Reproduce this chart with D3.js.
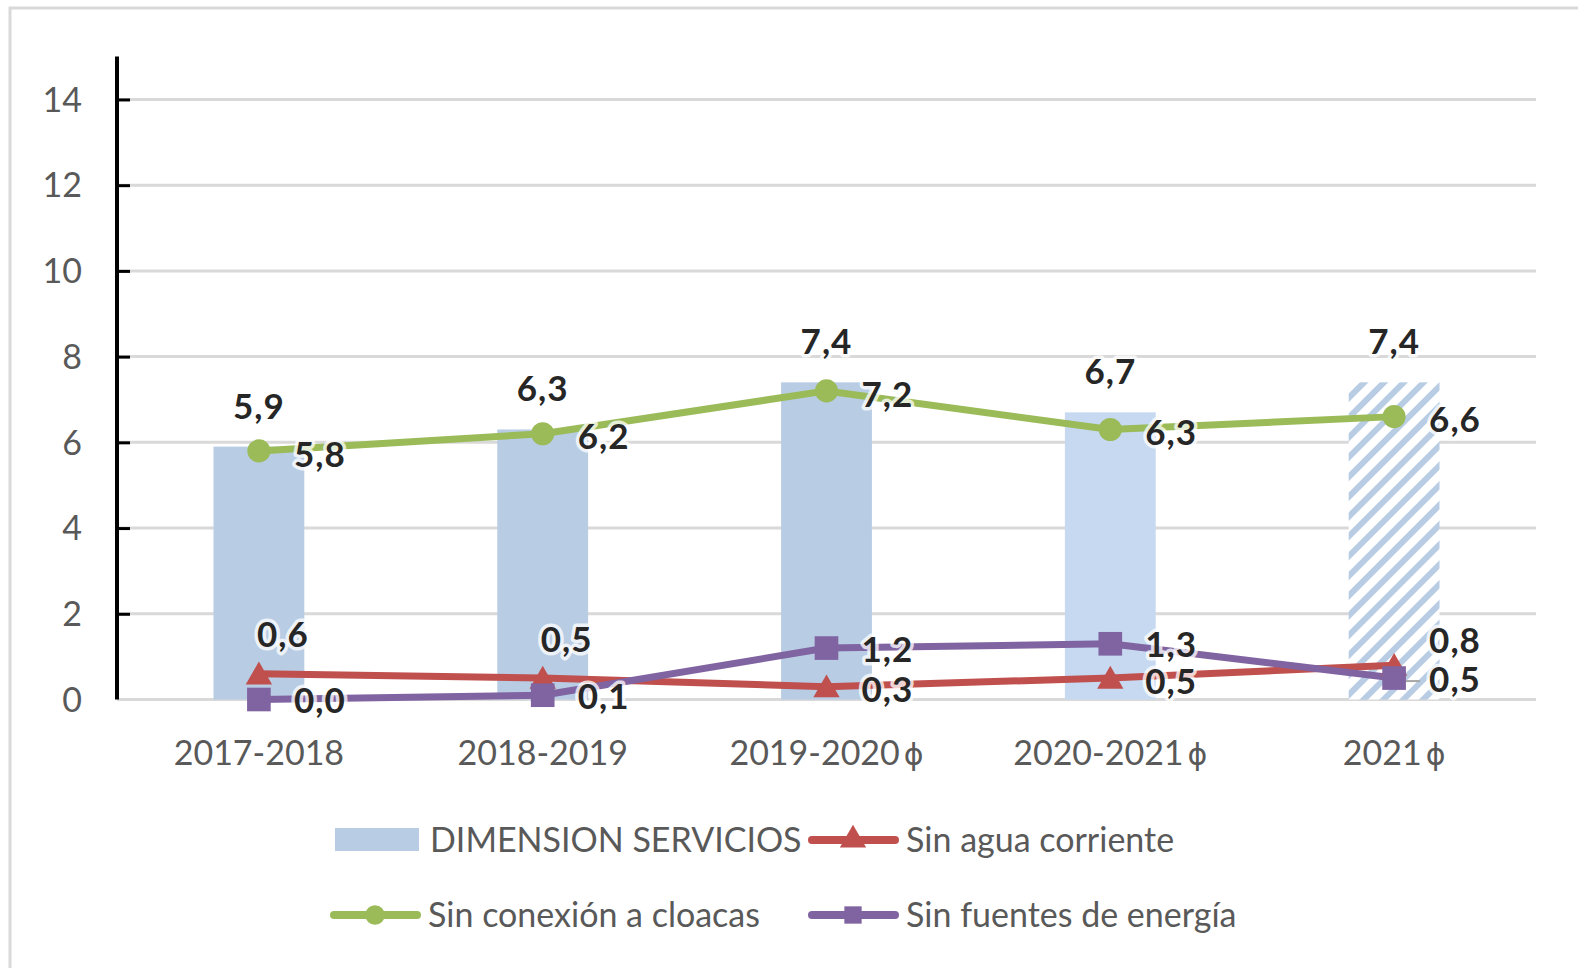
<!DOCTYPE html>
<html>
<head>
<meta charset="utf-8">
<script src="https://cdn.jsdelivr.net/npm/d3@7"></script>
<style>
  html, body { margin: 0; padding: 0; background: #fff; }
  svg { display: block; font-family: Lato, "Open Sans", sans-serif; }
  .tick-label { fill: #595959; font-size: 34px; }
  .phi { font-family: "DejaVu Sans", sans-serif; font-size: 30px; }
  .val { fill: #262626; font-size: 35px; font-weight: bold; letter-spacing: 1px; stroke: #fff; stroke-width: 7px; stroke-opacity: 0.75; paint-order: stroke; stroke-linejoin: round; }
  .legend-text { fill: #595959; font-size: 34px; }
</style>
</head>
<body>
<svg id="chart" width="1578" height="968"></svg>
<script>
const categories = ["2017-2018", "2018-2019", "2019-2020 \u03D5", "2020-2021 \u03D5", "2021 \u03D5"];
const dimension = [5.9, 6.3, 7.4, 6.7, 7.4];
const sinAgua = [0.6, 0.5, 0.3, 0.5, 0.8];
const sinCloacas = [5.8, 6.2, 7.2, 6.3, 6.6];
const sinEnergia = [0.0, 0.1, 1.2, 1.3, 0.5];
const yTicks = [0, 2, 4, 6, 8, 10, 12, 14];

// where each line label sits relative to its point
const aguaPlacement = ["above", "above", "right", "right", "aboveRight"];

const green = "#9bbb59";
const red = "#c0504d";
const purple = "#8064a2";
const barColors = ["#b8cce4", "#b8cce4", "#b8cce4", "#c6d9f1", null];

const svg = d3.select("#chart");
const fmt = v => d3.format(".1f")(v).replace(".", ",");

const defs = svg.append("defs");
const hatch = defs.append("pattern")
  .attr("id", "hatch")
  .attr("patternUnits", "userSpaceOnUse")
  .attr("width", 14)
  .attr("height", 14)
  .attr("patternTransform", "rotate(45)");
hatch.append("rect").attr("width", 14).attr("height", 14).attr("fill", "#fff");
hatch.append("rect").attr("x", 0).attr("width", 6).attr("height", 14).attr("fill", "#b8cce4");

// outer frame
svg.append("rect")
  .attr("x", 10).attr("y", 8)
  .attr("width", 1640).attr("height", 1100)
  .attr("fill", "none").attr("stroke", "#d9d9d9").attr("stroke-width", 3);

const left = 117, right = 1536;
const x = d3.scaleBand().domain(categories).range([left, right]).paddingInner(0.68).paddingOuter(0.34);
const y = d3.scaleLinear().domain([0, 15]).range([699.5, 56.6]);
const cx = d => x(d) + x.bandwidth() / 2;

// gridlines
svg.append("g").selectAll("line").data(yTicks).join("line")
  .attr("x1", left).attr("x2", right)
  .attr("y1", d => y(d)).attr("y2", d => y(d))
  .attr("stroke", "#d9d9d9").attr("stroke-width", 3);

// y axis
const yAxis = svg.append("g").attr("transform", `translate(${left},0)`)
  .call(d3.axisRight(y).tickValues(yTicks.slice(1)).tickSize(13).tickFormat(""));
yAxis.select(".domain").attr("d", `M0,${y(15)}V${y(0)}`).attr("stroke", "#000").attr("stroke-width", 4);
yAxis.selectAll(".tick line").attr("stroke", "#000").attr("stroke-width", 3);

svg.append("g").selectAll("text").data(yTicks).join("text")
  .attr("class", "tick-label")
  .attr("x", 82).attr("y", d => y(d))
  .attr("dy", "0.36em")
  .attr("text-anchor", "end")
  .text(d => d);

// x labels (phi drawn in its own tspan)
svg.append("g").selectAll("text").data(categories).join("text")
  .attr("class", "tick-label")
  .attr("x", d => cx(d)).attr("y", 765)
  .attr("text-anchor", "middle")
  .each(function (d) {
    const parts = d.split(" ");
    const t = d3.select(this);
    t.append("tspan").text(parts[0]);
    if (parts[1]) t.append("tspan").attr("class", "phi").attr("dx", 4).text(parts[1]);
  });

// bars
svg.append("g").selectAll("rect").data(categories).join("rect")
  .attr("x", d => x(d))
  .attr("width", x.bandwidth())
  .attr("y", (d, i) => y(dimension[i]))
  .attr("height", (d, i) => y(0) - y(dimension[i]))
  .attr("fill", (d, i) => barColors[i] || "url(#hatch)");

svg.append("g").selectAll("text").data(categories).join("text")
  .attr("class", "val")
  .attr("x", d => cx(d)).attr("y", (d, i) => y(dimension[i]) - 28)
  .attr("text-anchor", "middle")
  .text((d, i) => fmt(dimension[i]));

// lines
const line = d3.line().x((d, i) => cx(categories[i])).y(d => y(d));
const series = [
  { values: sinAgua, color: red, symbol: d3.symbolTriangle, size: 300 },
  { values: sinEnergia, color: purple, symbol: d3.symbolSquare, size: 560 },
  { values: sinCloacas, color: green, symbol: d3.symbolCircle, size: 420 }
];

series.forEach(s => {
  svg.append("path")
    .attr("d", line(s.values))
    .attr("fill", "none")
    .attr("stroke", s.color)
    .attr("stroke-width", 7)
    .attr("stroke-linejoin", "round");
});

// leader line for last purple label
svg.append("line")
  .attr("x1", cx(categories[4]) + 8).attr("x2", cx(categories[4]) + 26)
  .attr("y1", y(sinEnergia[4]) + 3).attr("y2", y(sinEnergia[4]) + 3)
  .attr("stroke", "#a6a6a6").attr("stroke-width", 2);

series.forEach(s => {
  svg.append("g").selectAll("path").data(s.values).join("path")
    .attr("transform", (d, i) => `translate(${cx(categories[i])},${y(d) + (s.symbol === d3.symbolTriangle ? 3 : 0)})`)
    .attr("d", d3.symbol(s.symbol, s.size))
    .attr("fill", s.color);
});

function rightLabels(values, shift) {
  svg.append("g").selectAll("text").data(values).join("text")
    .attr("class", "val")
    .attr("x", (d, i) => cx(categories[i]) + 35)
    .attr("y", d => y(d) + shift)
    .attr("dy", "0.36em")
    .text(d => fmt(d));
}
rightLabels(sinCloacas, 3);
rightLabels(sinEnergia, 1);

svg.append("g").selectAll("text").data(sinAgua).join("text")
  .attr("class", "val")
  .attr("x", (d, i) => {
    const p = aguaPlacement[i];
    return cx(categories[i]) + (p === "above" ? 24 : 35);
  })
  .attr("y", (d, i) => {
    const p = aguaPlacement[i];
    const off = p === "above" ? -39 : p === "aboveRight" ? -25 : 3;
    return y(d) + off;
  })
  .attr("dy", "0.36em")
  .attr("text-anchor", (d, i) => aguaPlacement[i] === "above" ? "middle" : "start")
  .text(d => fmt(d));

// legend
const legend = svg.append("g");
const legendItems = [
  { label: "DIMENSION SERVICIOS", type: "bar", x: 335, y: 840 },
  { label: "Sin agua corriente", type: "line", color: red, symbol: d3.symbolTriangle, x: 808, y: 840 },
  { label: "Sin conexión a cloacas", type: "line", color: green, symbol: d3.symbolCircle, x: 330, y: 915 },
  { label: "Sin fuentes de energía", type: "line", color: purple, symbol: d3.symbolSquare, x: 808, y: 915 }
];
legendItems.forEach(it => {
  const gi = legend.append("g").attr("transform", `translate(${it.x},${it.y})`);
  if (it.type === "bar") {
    gi.append("rect").attr("x", 0).attr("y", -12).attr("width", 84).attr("height", 23).attr("fill", "#b8cce4");
    gi.append("text").attr("class", "legend-text").attr("x", 95).attr("dy", "0.36em").text(it.label);
  } else {
    gi.append("line").attr("x1", 4).attr("x2", 87).attr("y1", 0).attr("y2", 0)
      .attr("stroke", it.color).attr("stroke-width", 8).attr("stroke-linecap", "round");
    gi.append("path").attr("transform", "translate(45,0)")
      .attr("d", d3.symbol(it.symbol, 300)).attr("fill", it.color);
    gi.append("text").attr("class", "legend-text").attr("x", 98).attr("dy", "0.36em").text(it.label);
  }
});
</script>
</body>
</html>
